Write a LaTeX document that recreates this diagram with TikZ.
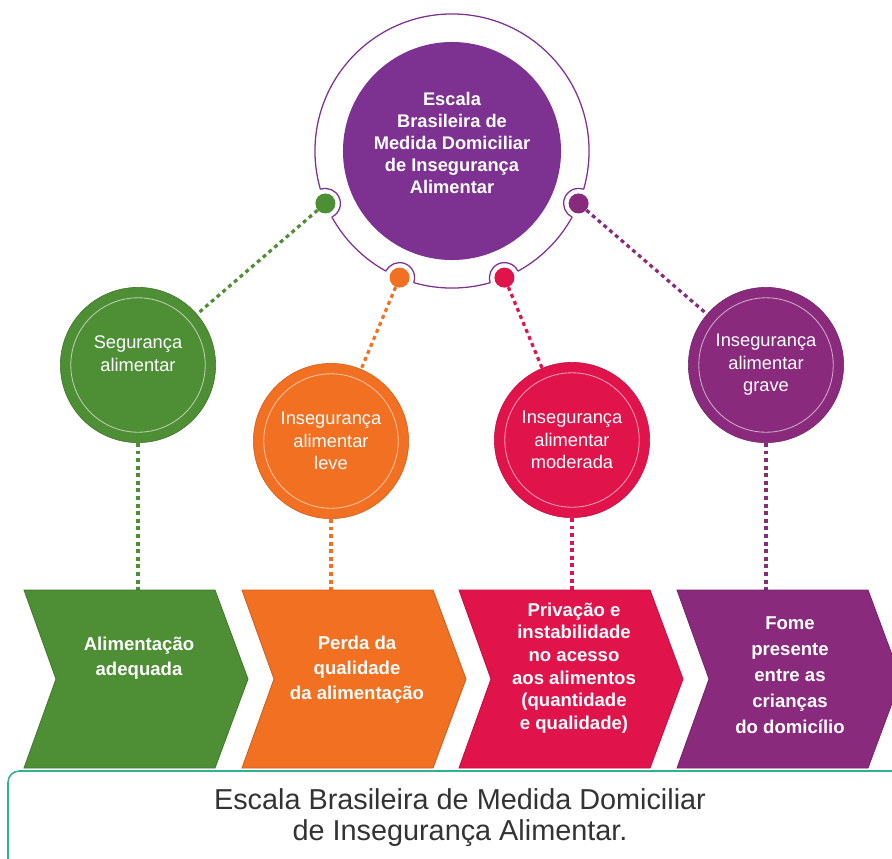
\documentclass[tikz,border=0pt]{standalone}
\usepackage{fontspec}
\setmainfont{Liberation Sans}
\usetikzlibrary{calc}
\definecolor{segc}{HTML}{4E8E35}
\definecolor{levec}{HTML}{F17022}
\definecolor{modc}{HTML}{E1134B}
\definecolor{gravec}{HTML}{8A2A7D}
\definecolor{ebiac}{HTML}{7D3292}
\definecolor{framec}{HTML}{2EB38C}
\begin{document}
\begin{tikzpicture}[x=0.025cm, y=0.025cm,
            level/.style={circle, minimum size=3.88cm, inner sep=0pt, text=white, align=center, font=\fontsize{13}{16}\selectfont},
            dot/.style={circle, minimum size=0.5cm, inner sep=0pt},
            ring/.style={draw=ebiac, line width=0.9pt},
            inring/.style={draw=white, draw opacity=0.6, line width=0.6pt},
            dotline/.style={line width=2.3pt, dash pattern=on 2.8pt off 2.6pt},
            chevron/.style={line width=0.6pt},
            chevtext/.style={text=white, align=center, font=\bfseries\fontsize{13.2}{17.8}\selectfont}
        ]
        \useasboundingbox (0,0) rectangle (892,-858);
        \clip (0,0) rectangle (892,-858);

        % Central circle and its outer ring
        \draw[ring] (452,-151) circle[radius=3.425cm];
        \node[circle, fill=ebiac, minimum size=5.45cm, inner sep=0pt] (ebia) at (452,-151) {};
        \node[text=white, align=center, font=\bfseries\fontsize{13}{15.6}\selectfont] (ebiatitle) at (452,-143)
            {Escala\\Brasileira de\\Medida Domiciliar\\de Insegurança\\Alimentar};

        % Points on the ring
        \coordinate (pseg) at ($(ebia.center)+(202.5:3.425cm)$);
        \coordinate (plev) at ($(ebia.center)+(247.5:3.425cm)$);
        \coordinate (pmod) at ($(ebia.center)+(292.5:3.425cm)$);
        \coordinate (pgrv) at ($(ebia.center)+(337.5:3.425cm)$);

        % Notches in the ring
        \fill[white] (pseg) circle[radius=0.375cm] (plev) circle[radius=0.375cm]
            (pmod) circle[radius=0.375cm] (pgrv) circle[radius=0.375cm];
        \draw[ring] ([shift={(295.5:0.375cm)}]pseg) arc[start angle=295.5, end angle=469.5, radius=0.375cm];
        \draw[ring] ([shift={(340.5:0.375cm)}]plev) arc[start angle=340.5, end angle=514.5, radius=0.375cm];
        \draw[ring] ([shift={(385.5:0.375cm)}]pmod) arc[start angle=385.5, end angle=559.5, radius=0.375cm];
        \draw[ring] ([shift={(430.5:0.375cm)}]pgrv) arc[start angle=430.5, end angle=604.5, radius=0.375cm];

        % Coloured dots
        \node[dot, fill=segc] (dseg) at (pseg) {};
        \node[dot, fill=levec] (dlev) at (plev) {};
        \node[dot, fill=modc] (dmod) at (pmod) {};
        \node[dot, fill=gravec] (dgrv) at (pgrv) {};

        % Levels of the scale
        \node[level, fill=segc, draw=segc!80!black] (seg) at (138,-365) {Segurança\\alimentar\\\mbox{}};
        \node[level, fill=levec, draw=levec!85!black] (lev) at (331,-441) {Insegurança\\alimentar\\leve};
        \node[level, fill=modc, draw=modc!85!black] (mod) at (572,-440) {Insegurança\\alimentar\\moderada};
        \node[level, fill=gravec, draw=gravec!85!black] (grv) at (766,-365) {Insegurança\\alimentar\\grave};

        \draw[inring] (seg) circle[radius=1.68cm];
        \draw[inring] (lev) circle[radius=1.68cm];
        \draw[inring] (mod) circle[radius=1.68cm];
        \draw[inring] (grv) circle[radius=1.68cm];

        % Tops of the arrows
        \coordinate (tseg) at (138,-590);
        \coordinate (tlev) at (331,-590);
        \coordinate (tmod) at (572,-590);
        \coordinate (tgrv) at (766,-590);

        % Dotted connectors
        \draw[dotline, segc] (dseg) -- (seg);
        \draw[dotline, levec] (dlev) -- (lev);
        \draw[dotline, modc] (dmod) -- (mod);
        \draw[dotline, gravec] (dgrv) -- (grv);

        \draw[dotline, segc] (seg) -- (tseg);
        \draw[dotline, levec] (lev) -- (tlev);
        \draw[dotline, modc] (mod) -- (tmod);
        \draw[dotline, gravec] (grv) -- (tgrv);

        % Arrows
        \filldraw[chevron, fill=segc, draw=segc!85!black] (24,-590) -- ++(191,0) -- ++(33,-89) -- ++(-33,-89) -- ++(-191,0) -- ++(32,89) -- cycle;
        \filldraw[chevron, fill=levec, draw=levec!85!black] (242,-590) -- ++(191,0) -- ++(33,-89) -- ++(-33,-89) -- ++(-191,0) -- ++(32,89) -- cycle;
        \filldraw[chevron, fill=modc, draw=modc!85!black] (459,-590) -- ++(191,0) -- ++(33,-89) -- ++(-33,-89) -- ++(-191,0) -- ++(32,89) -- cycle;
        \filldraw[chevron, fill=gravec, draw=gravec!85!black] (677,-590) -- ++(191,0) -- ++(33,-89) -- ++(-33,-89) -- ++(-191,0) -- ++(32,89) -- cycle;

        \node[chevtext] (adeq) at (139,-658) {Alimentação\\adequada};
        \node[chevtext] (perda) at (357,-670) {Perda da\\qualidade\\da alimentação};
        \node[chevtext, font=\bfseries\fontsize{13.2}{16.1}\selectfont] (priv) at (574,-668)
            {Privação e\\instabilidade\\no acesso\\aos alimentos\\(quantidade\\e qualidade)};
        \node[chevtext, font=\bfseries\fontsize{13.2}{18.5}\selectfont] (fome) at (790,-675)
            {Fome\\presente\\entre as\\crianças\\do domicílio};

        % Caption box
        \draw[framec, line width=1.1pt, rounded corners=8pt] (8,-771) rectangle (910,-880);
        \node[align=center, text=black!80, font=\fontsize{20.5}{22}\selectfont] (caption) at (460,-818)
            {Escala Brasileira de Medida Domiciliar\\de Insegurança Alimentar.};

    \end{tikzpicture}
\end{document}
